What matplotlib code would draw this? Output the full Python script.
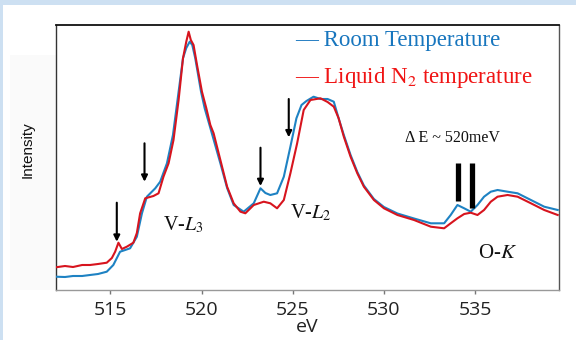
import matplotlib
matplotlib.use("Agg")
import matplotlib.pyplot as plt
from matplotlib.patches import Rectangle

plt.rcParams['mathtext.fontset'] = 'stix'

# ---------------- data (eV, intensity in arbitrary units) ----------------
ev_red = [512.00, 512.51, 512.95, 513.45, 513.88, 514.32, 514.80, 515.08, 515.26, 515.44,
          515.63, 515.90, 516.26, 516.45, 516.63, 516.91, 517.36, 517.64, 517.91, 518.19,
          518.46, 518.74, 518.98, 519.16, 519.29, 519.41, 519.56, 519.75, 520.02, 520.26,
          520.48, 520.66, 521.03, 521.40, 521.76, 522.13, 522.40, 522.86, 523.41, 523.77,
          524.14, 524.51, 524.87, 525.24, 525.60, 525.97, 526.52, 526.91, 527.25, 527.51,
          527.80, 528.17, 528.54, 528.90, 529.45, 530.00, 530.74, 531.65, 532.57, 533.30,
          533.66, 534.03, 534.40, 534.76, 535.13, 535.49, 535.86, 536.23, 536.78, 537.33,
          538.06, 538.79, 539.53]
int_red = [22.7, 24.0, 23.0, 25.0, 25.0, 26.0, 27.3, 32.0, 38.3, 47.3,
           41.0, 43.3, 47.3, 57.0, 76.7, 91.7, 94.0, 96.7, 113.3, 126.7,
           150.0, 190.0, 231.7, 248.3, 258.3, 250.0, 245.0, 225.0, 198.3, 181.7,
           165.0, 156.7, 130.0, 103.3, 86.7, 78.3, 76.7, 85.0, 88.3, 86.7,
           81.7, 90.0, 116.7, 146.7, 180.0, 190.0, 191.7, 188.0, 183.3, 172.0,
           153.3, 133.3, 116.7, 103.3, 90.0, 81.7, 75.0, 70.0, 63.3, 61.7,
           66.7, 71.7, 76.0, 77.3, 75.0, 80.0, 88.3, 93.3, 95.0, 93.3,
           86.7, 80.0, 75.0]

ev_blue = [512.00, 512.51, 512.95, 513.45, 513.88, 514.32, 514.80, 515.16, 515.53, 515.81,
           516.08, 516.45, 516.73, 517.00, 517.46, 517.73, 518.10, 518.43, 518.74, 518.98,
           519.16, 519.35, 519.49, 519.65, 519.97, 520.17, 520.48, 521.03, 521.40, 521.76,
           522.31, 522.86, 523.23, 523.50, 523.77, 524.14, 524.51, 524.87, 525.20, 525.48,
           525.75, 526.14, 526.52, 526.91, 527.25, 527.51, 527.80, 528.17, 528.54, 528.90,
           529.45, 530.00, 530.74, 531.65, 532.57, 533.30, 533.66, 534.03, 534.40, 534.76,
           535.13, 535.49, 535.86, 536.23, 536.78, 537.33, 538.06, 538.79, 539.53]
int_blue = [13.3, 13.0, 14.0, 14.0, 15.0, 16.0, 18.3, 25.0, 38.3, 40.0,
            41.7, 53.3, 76.7, 93.3, 101.7, 108.3, 126.7, 155.0, 198.3, 231.7,
            242.0, 248.3, 245.0, 232.0, 198.3, 181.7, 162.0, 126.7, 102.0, 85.0,
            78.3, 86.7, 101.7, 97.0, 95.0, 96.7, 113.3, 143.3, 171.7, 185.0,
            189.0, 193.3, 191.0, 191.0, 188.3, 172.0, 155.0, 135.0, 118.0, 104.5,
            91.0, 83.0, 76.5, 71.5, 66.7, 66.7, 75.0, 85.0, 81.7, 78.3,
            85.0, 93.3, 98.3, 100.0, 98.3, 96.7, 90.0, 83.3, 80.0]

# arrows: x position, top, tip
arrow_x = [515.35, 516.87, 523.23, 524.78]
arrow_top = [87.3, 146.7, 142.3, 191.0]
arrow_tip = [48.3, 108.3, 104.0, 152.7]

# energy-resolution bars
bar_x = [534.08, 534.85]
bar_top = [127.3, 127.3]
bar_bottom = [89.0, 82.0]

x_ticks = [515, 520, 525, 530, 535]
blue = '#1e82c3'
red = '#d7141e'

# ---------------- figure ----------------
W, H = 576, 340
fig = plt.figure(figsize=(W / 100, H / 100), dpi=100)
fig.patch.set_facecolor('white')
bg = '#cde0f2'
fig.add_artist(Rectangle((0, 1 - 5 / H), 1, 5 / H, transform=fig.transFigure,
                         facecolor=bg, edgecolor='none', zorder=0))
fig.add_artist(Rectangle((0, 0), 3 / W, 1, transform=fig.transFigure,
                         facecolor=bg, edgecolor='none', zorder=0))
fig.add_artist(Rectangle((10 / W, 1 - 290 / H), (55.7 - 10) / W, (290 - 55) / H,
                         transform=fig.transFigure, facecolor='#fafafa',
                         edgecolor='none', zorder=0))

ax = fig.add_axes([55.7 / W, 50 / H, (559 - 55.7) / W, 265 / H])
ax.set_xlim(512, 539.6)
ax.set_ylim(0, 265)

ax.plot(ev_blue, int_blue, color=blue, lw=1.5, zorder=3)
ax.plot(ev_red, int_red, color=red, lw=1.5, zorder=4)

for x, t, b in zip(arrow_x, arrow_top, arrow_tip):
    ax.annotate('', xy=(x, b), xytext=(x, t),
                arrowprops=dict(arrowstyle='-|>', color='black', lw=1.5,
                                mutation_scale=9, shrinkA=0, shrinkB=0))
ax.vlines(bar_x, bar_bottom, bar_top, color='black', lw=3.8, zorder=5)

# spines and ticks
ax.spines['top'].set_color('#111111')
ax.spines['top'].set_linewidth(1.3)
ax.spines['left'].set_color('#333333')
ax.spines['left'].set_linewidth(1.0)
ax.spines['right'].set_color('#555555')
ax.spines['right'].set_linewidth(1.0)
ax.spines['bottom'].set_color('#999999')
ax.spines['bottom'].set_linewidth(1.0)
ax.set_yticks([])
ax.set_xticks(x_ticks)
ax.tick_params(axis='x', direction='out', length=3, width=1, color='#777777',
               labelsize=14, labelcolor='#222222', pad=5)
for lab in ax.get_xticklabels():
    lab.set_fontfamily('Open Sans')

ax.set_xlabel('eV', fontsize=14, color='#222222', family='Open Sans', labelpad=-1)
fig.text(27.5 / W, 1 - 150 / H, 'Intensity', rotation=90, ha='center', va='center',
         fontsize=11, family='Liberation Sans', color='#111111')

serif = 'Liberation Serif'
ax.text(525.15, 244, '— Room Temperature', color='#1876be', fontsize=16.5,
        family=serif, va='baseline', ha='left')
ax.text(525.15, 207, '— Liquid N$_2$ temperature', color='#f01414', fontsize=16.5,
        family=serif, va='baseline', ha='left')

ax.text(517.9, 60, 'V-$\\mathit{L}_{\\mathit{3}}$', fontsize=14.5, family=serif,
        va='baseline', ha='left', color='#111111')
ax.text(524.87, 72, 'V-$\\mathit{L}_{\\mathit{2}}$', fontsize=14.5, family=serif,
        va='baseline', ha='left', color='#111111')
ax.text(535.15, 32, 'O-$\\mathit{K}$', fontsize=15, family=serif,
        va='baseline', ha='left', color='#111111')
ax.text(531.14, 148, 'Δ E ~ 520meV', fontsize=11.5, family=serif,
        va='baseline', ha='left', color='#111111')

fig.savefig('out.png', dpi=100, facecolor=fig.get_facecolor())
